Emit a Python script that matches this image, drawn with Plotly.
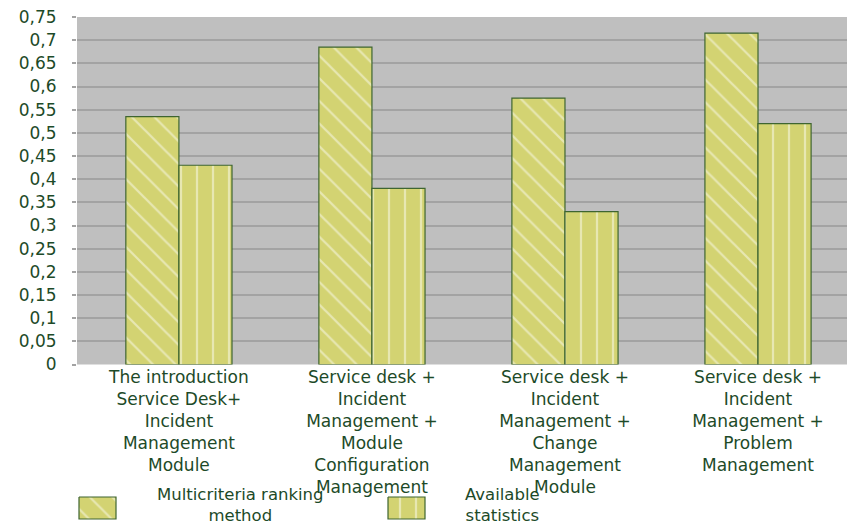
import plotly.graph_objects as go

categories = [
    "The introduction<br>Service Desk+<br>Incident<br>Management<br>Module",
    "Service desk +<br>Incident<br>Management +<br>Module<br>Configuration<br>Management",
    "Service desk +<br>Incident<br>Management +<br>Change<br>Management<br>Module",
    "Service desk +<br>Incident<br>Management +<br>Problem<br>Management",
]
multicriteria = [0.535, 0.685, 0.575, 0.715]
available = [0.43, 0.38, 0.33, 0.52]
series_names = ["Multicriteria ranking<br>method", "Available<br>statistics"]
patterns = ["\\", "|"]

W, H = 864, 526
OFF = 8  # page body margin offset
BAR = "#d3d372"
EDGE = "#3e6530"
TXT = "#1d4a28"
FONT = "DejaVu Sans"


def fx(px):
    return (px - OFF) / W


def fy(py):
    return 1 - (py - OFF) / H


fig = go.Figure()
for name, vals, pat in zip(series_names, [multicriteria, available], patterns):
    fig.add_trace(go.Bar(
        x=list(range(len(categories))), y=vals, name=name,
        marker=dict(color=BAR, line=dict(color=EDGE, width=1.2),
                    pattern=dict(shape=pat, fgcolor="rgba(255,255,255,0.9)",
                                 bgcolor=BAR, size=16, solidity=0.14)),
        xaxis="x", yaxis="y", showlegend=False,
    ))

# legend swatches on a full-page overlay axis (page pixel coordinates)
legend_boxes = [(79, 116, 497, 519), (388, 425, 497, 519)]
for (x0, x1, y0, y1), pat in zip(legend_boxes, patterns):
    fig.add_trace(go.Scatter(
        x=[x0, x1, x1, x0, x0], y=[y0, y0, y1, y1, y0], mode="lines",
        fill="toself", fillcolor=BAR,
        fillpattern=dict(shape=pat, fgcolor="rgba(255,255,255,0.9)",
                         bgcolor=BAR, size=16, solidity=0.14),
        line=dict(color=EDGE, width=1.2),
        xaxis="x2", yaxis="y2", showlegend=False, hoverinfo="skip",
    ))

legend_text_x = [240, 502]
for name, lx in zip(series_names, legend_text_x):
    fig.add_annotation(text=name, x=fx(lx), y=fy(505), xref="paper", yref="paper",
                       xanchor="center", yanchor="middle",
                       showarrow=False, align="center",
                       font=dict(family=FONT, size=16.5, color=TXT))

fig.add_shape(type="rect", xref="x domain", yref="y domain", x0=0, x1=1, y0=0, y1=1,
              fillcolor="#bfbfbf", line=dict(width=0), layer="below")

fig.update_layout(
    width=W, height=H,
    margin=dict(l=0, r=0, t=0, b=0, autoexpand=False),
    paper_bgcolor="white", plot_bgcolor="rgba(0,0,0,0)",
    separators=", ",
    barmode="group", bargap=0.45, bargroupgap=0,
    font=dict(family=FONT, size=16, color=TXT),
    xaxis=dict(domain=[fx(77), fx(847)], range=[-0.528, 3.461], automargin=False,
               tickvals=list(range(len(categories))), ticktext=categories,
               showgrid=False, zeroline=False, showline=False, ticks="",
               ticklabeloverflow="allow",
               tickfont=dict(family=FONT, size=17, color=TXT), anchor="y"),
    yaxis=dict(domain=[fy(364.5), fy(17)], range=[0, 0.75], dtick=0.05,
               automargin=False, ticklabeloverflow="allow",
               showgrid=True, gridcolor="#a3a3a3", gridwidth=1.5,
               zeroline=False, showline=False, ticks="outside", ticklen=4,
               tickcolor="#a3a3a3", tickwidth=1.5, ticklabelstandoff=12,
               tickfont=dict(family=FONT, size=17, color=TXT), anchor="x"),
    xaxis2=dict(domain=[0, 1], range=[OFF, W + OFF], visible=False, anchor="y2",
                fixedrange=True, automargin=False),
    yaxis2=dict(domain=[0, 1], range=[H + OFF, OFF], visible=False, anchor="x2",
                fixedrange=True, automargin=False),
)

fig.write_html("out.html")
